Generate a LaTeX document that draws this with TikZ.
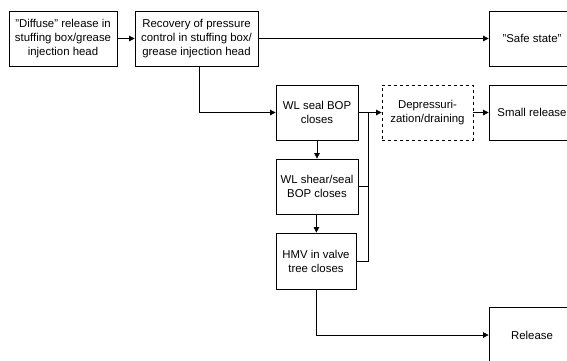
\documentclass[tikz,border=0pt]{standalone}
\usepackage{fontspec}
\setmainfont{Liberation Sans}
\usetikzlibrary{arrows.meta}
\begin{document}
\begin{tikzpicture}[x=1pt,y=-1pt,
  box/.style={draw=black, line width=0.8pt, rectangle, align=center,
    inner sep=0pt, font=\fontsize{11.4}{14}\selectfont},
  link/.style={draw=black, line width=0.75pt},
  arr/.style={link, -{Triangle[length=5.5pt,width=5.5pt]}}]
\useasboundingbox (0,0) rectangle (567,360);

% event boxes
\node[box, minimum width=108pt, minimum height=55pt] (diffuse) at (63,38.5)
  {"Diffuse" release in\\stuffing box/grease\\injection head};
\node[box, minimum width=123pt, minimum height=55pt] (recovery) at (196.5,38.5)
  {Recovery of pressure\\control in stuffing box/\\grease injection head};
\node[box, minimum width=86pt, minimum height=55pt] (safe) at (532,38.5)
  {"Safe state"};
\node[box, minimum width=82pt, minimum height=55pt] (seal) at (317,112.5)
  {WL seal BOP\\closes};
\node[box, minimum width=82pt, minimum height=55pt] (shear) at (317,186.5)
  {WL shear/seal\\BOP closes};
\node[box, minimum width=80pt, minimum height=56pt] (hmv) at (316,261)
  {HMV in valve\\tree closes};
\node[box, dashed, minimum width=91pt, minimum height=55pt] (depress) at (427.5,112.5)
  {Depressuri-\\zation/draining};
\node[box, minimum width=86pt, minimum height=55pt] (small) at (532,112.5)
  {Small release};
\node[box, minimum width=86pt, minimum height=56pt] (release) at (532,335)
  {Release};

% collecting line towards depressurization
\coordinate (bus) at (368,112.5);

% connectors
\draw[arr] (diffuse) -- (recovery);
\draw[arr] (recovery.east) -- (recovery.east -| safe.west);
\draw[arr] ([xshift=2.5pt]recovery.south) |- (seal.west);
\draw[arr] (seal) -- (shear);
\draw[arr] (shear) -- (hmv);
\draw[arr] (seal.east) -- (depress.west);
\draw[link] (shear.east) -- (shear.east -| bus);
\draw[link] (hmv.east) -| (bus);
\draw[arr] (depress) -- (small);
\draw[arr] (hmv.south) |- (release.west);
\end{tikzpicture}
\end{document}
